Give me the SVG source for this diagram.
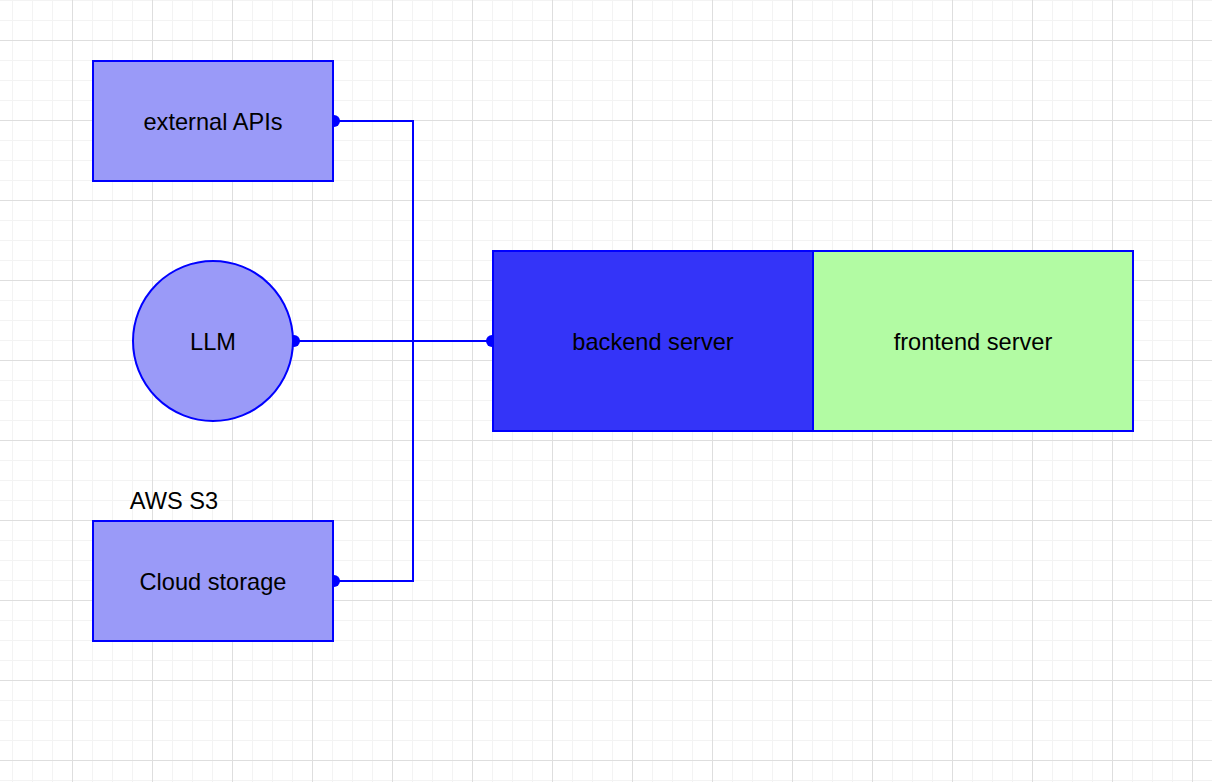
<svg xmlns="http://www.w3.org/2000/svg" width="1212" height="782" viewBox="0 0 1212 782">
  <style>
    .node { stroke: #0000ff; stroke-width: 2; }
    .light { fill: #9a9af8; }
    .label { font-family: "Liberation Sans", Arial, Helvetica, sans-serif; font-size: 23.6px; fill: #000000; text-anchor: middle; }
    .conn { fill: none; stroke: #0000ff; stroke-width: 2; }
    .dot { fill: #0000ff; }
  </style>
  <defs>
    <pattern id="grid" patternUnits="userSpaceOnUse" x="72" y="40" width="80" height="80">
      <rect x="0" y="0" width="80" height="80" fill="#ffffff"/>
      <rect x="20" y="0" width="1" height="80" fill="#f3f3f3"/>
      <rect x="40" y="0" width="1" height="80" fill="#f3f3f3"/>
      <rect x="60" y="0" width="1" height="80" fill="#f3f3f3"/>
      <rect x="0" y="20" width="80" height="1" fill="#f3f3f3"/>
      <rect x="0" y="40" width="80" height="1" fill="#f3f3f3"/>
      <rect x="0" y="60" width="80" height="1" fill="#f3f3f3"/>
      <rect x="0" y="0" width="1" height="80" fill="#dedede"/>
      <rect x="0" y="0" width="80" height="1" fill="#dedede"/>
    </pattern>
  </defs>
  <rect x="0" y="0" width="1212" height="782" fill="url(#grid)"/>

  <g id="connectors">
    <path class="conn" d="M333 121 H413 V581 H333"/>
    <path class="conn" d="M293 341 H493"/>
    <circle class="dot" cx="334" cy="121" r="6"/>
    <circle class="dot" cx="334" cy="581" r="6"/>
    <circle class="dot" cx="294" cy="341" r="6"/>
    <circle class="dot" cx="492" cy="341" r="6"/>
  </g>

  <g id="external-apis">
    <rect class="node light" x="93" y="61" width="240" height="120"/>
    <text class="label" x="213" y="130">external APIs</text>
  </g>

  <g id="llm">
    <circle class="node light" cx="213" cy="341" r="80"/>
    <text class="label" x="213" y="350">LLM</text>
  </g>

  <g id="cloud-storage">
    <text class="label" x="174" y="509">AWS S3</text>
    <rect class="node light" x="93" y="521" width="240" height="120"/>
    <text class="label" x="213" y="590">Cloud storage</text>
  </g>

  <g id="backend-server">
    <rect class="node" x="493" y="251" width="320" height="180" fill="#3434f8"/>
    <text class="label" x="653" y="350">backend server</text>
  </g>

  <g id="frontend-server">
    <rect class="node" x="813" y="251" width="320" height="180" fill="#b2fba3"/>
    <text class="label" x="973" y="350">frontend server</text>
  </g>
</svg>
